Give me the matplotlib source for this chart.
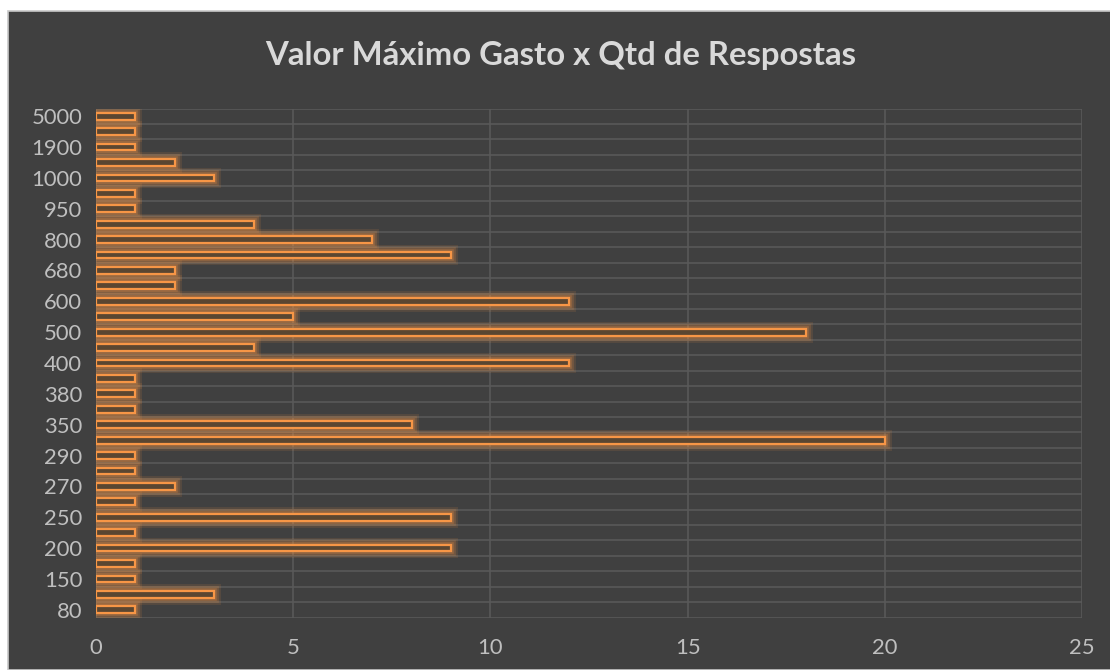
import matplotlib
matplotlib.use("Agg")
import matplotlib.pyplot as plt
import matplotlib.patheffects as pe
from matplotlib.patches import Rectangle
import numpy as np

# valor maximo gasto (categorias, de baixo para cima) e quantidade de respostas
valores = ["80", "100", "150", "180", "200", "230", "250", "260", "270", "280",
           "290", "300", "350", "360", "380", "390", "400", "450", "500", "550",
           "600", "650", "680", "700", "800", "900", "950", "980", "1000", "1500",
           "1900", "2000", "5000"]
respostas = [1, 3, 1, 1, 9, 1, 9, 1, 2, 1,
             1, 20, 8, 1, 1, 1, 12, 4, 18, 5,
             12, 2, 2, 9, 7, 4, 1, 1, 3, 2,
             1, 1, 1]
x_ticks = [0, 5, 10, 15, 20, 25]

BG = "#404040"
GRID = "#595959"
ORANGE = "#f79646"
FONT = "Lato"

fig = plt.figure(figsize=(11.1, 6.7), dpi=100, facecolor="white")
fig.patches.append(Rectangle((8 / 1110, 0), 1, 1 - 11 / 670, transform=fig.transFigure,
                             facecolor=BG, edgecolor="#c8c8c8", linewidth=1.2, zorder=-5))

ax = fig.add_axes([96 / 1110, 1 - 617.5 / 670, 986 / 1110, 509 / 670])
ax.set_facecolor(BG)
ax.set_zorder(2)

pos = np.arange(len(valores))
glow = [pe.Stroke(linewidth=10, foreground=ORANGE, alpha=0.12),
        pe.Stroke(linewidth=7, foreground=ORANGE, alpha=0.18),
        pe.Stroke(linewidth=4, foreground=ORANGE, alpha=0.25),
        pe.Normal()]
bars = ax.barh(pos, respostas, height=0.44, color="#5a4631", edgecolor=ORANGE,
               linewidth=1.6, zorder=3)
for b in bars:
    b.set_path_effects(glow)

ax.set_xlim(0, 25)
ax.set_ylim(-0.5, len(valores) - 0.5)
ax.set_xticks(x_ticks)
ax.set_yticks(pos[::2])
ax.set_yticklabels(valores[::2])
ax.set_yticks(np.arange(-0.5, len(valores)), minor=True)

ax.grid(axis="x", which="major", color=GRID, linewidth=1.2, zorder=1)
ax.grid(axis="y", which="minor", color=GRID, linewidth=1.2, zorder=1)
ax.grid(axis="y", which="major", visible=False)
for s in ax.spines.values():
    s.set_visible(False)
ax.tick_params(axis="both", which="both", length=0, colors="#bfbfbf", labelsize=15.8)
ax.tick_params(axis="x", pad=15)
ax.tick_params(axis="y", pad=10)
for lbl in ax.get_xticklabels() + ax.get_yticklabels():
    lbl.set_family(FONT)

fig.text(0.5047, 1 - 56 / 670, "Valor Máximo Gasto x Qtd de Respostas", ha="center", va="center",
         color="#d9d9d9", fontsize=23.7, fontweight="bold", family=FONT)

fig.savefig("out.png", dpi=100, facecolor=fig.get_facecolor())
